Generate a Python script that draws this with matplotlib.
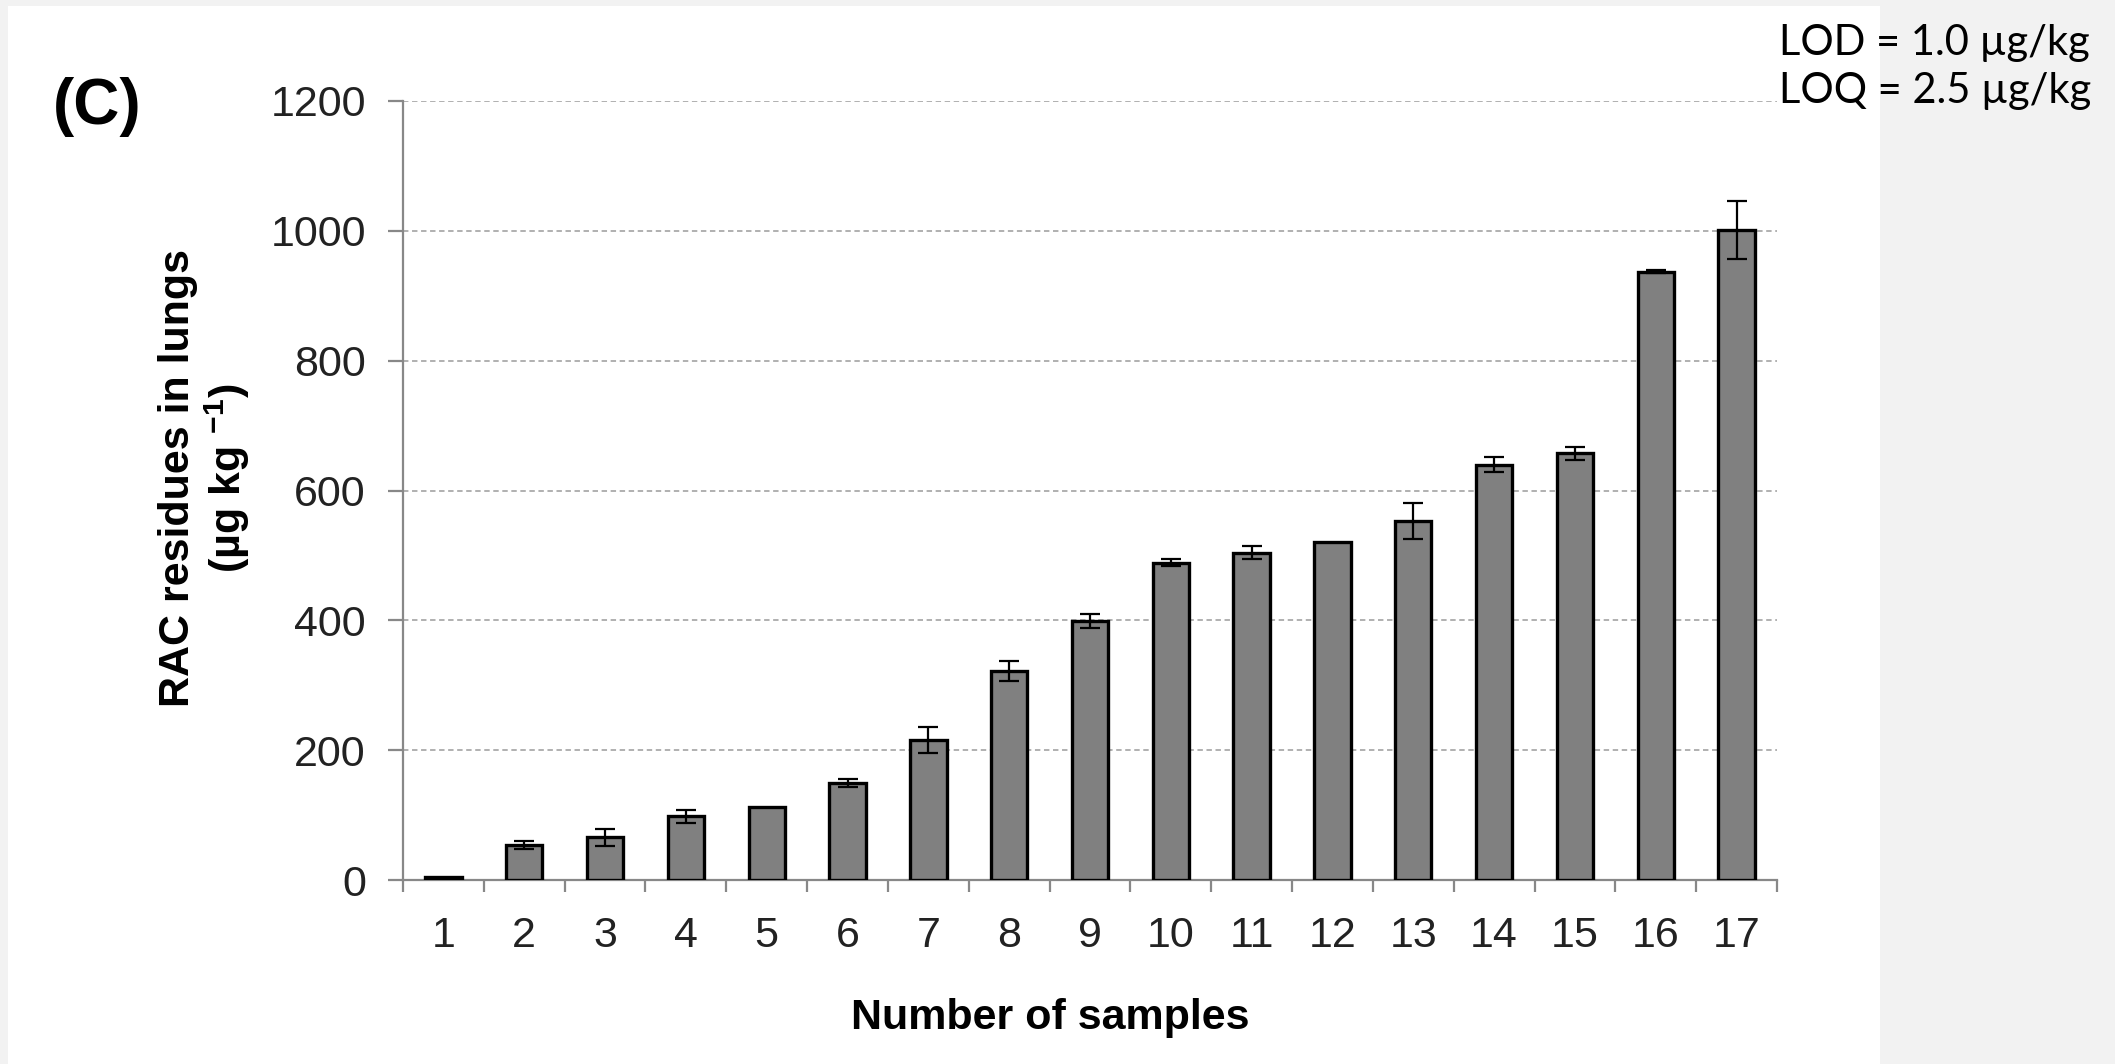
"""
RAC residues in lungs - bar chart with error bars, panel (C)
"""
import numpy as np
import matplotlib.pyplot as plt
from matplotlib.patches import Rectangle

plt.rcParams['font.family'] = ['Liberation Sans', 'DejaVu Sans']
plt.rcParams['mathtext.fontset'] = 'custom'
plt.rcParams['mathtext.bf'] = 'Liberation Sans:bold'
plt.rcParams['mathtext.rm'] = 'Liberation Sans:bold'
plt.rcParams['mathtext.default'] = 'bf'

# data
samples = [str(i) for i in range(1, 18)]
residues = [4, 54, 66, 98, 113, 150, 216, 322, 399, 489, 504, 521, 553, 640, 657, 937, 1001]
errors = [0, 6, 13, 10, 0, 6, 20, 15, 11, 6, 10, 0, 28, 12, 10, 2, 45]
y_ticks = [0, 200, 400, 600, 800, 1000, 1200]

fig = plt.figure(figsize=(21.15, 10.64), dpi=100, facecolor='#f2f2f2')
# white slide panel
fig.add_artist(Rectangle((8/2115, 0), (1880-8)/2115, 1 - 6/1064, transform=fig.transFigure,
                         facecolor='white', edgecolor='none', zorder=0))

ax = fig.add_axes([403/2115, 1 - 880/1064, 1374/2115, 779/1064])
ax.set_facecolor('none')

x = np.arange(1, len(samples) + 1)
ax.bar(x, residues, width=0.45, color='#808080', edgecolor='black', linewidth=2.4, zorder=3)
err = np.array(errors)
has_err = err > 0
ax.errorbar(x[has_err], np.array(residues)[has_err], yerr=err[has_err], fmt='none',
            ecolor='black', elinewidth=1.6, capsize=7, capthick=1.6, zorder=4)

ax.set_xlim(0.5, len(samples) + 0.5)
ax.set_ylim(0, 1200)
ax.set_yticks(y_ticks)
ax.set_xticks(x)
ax.set_xticklabels(samples)
ax.set_xticks(np.arange(0.5, len(samples) + 1), minor=True)

ax.yaxis.grid(True, color='#aaaaaa', linestyle=(0, (3, 2)), linewidth=1.3, zorder=0)
ax.set_axisbelow(True)
for s in ['top', 'right']:
    ax.spines[s].set_visible(False)
for s in ['left', 'bottom']:
    ax.spines[s].set_color('#888888')
    ax.spines[s].set_linewidth(1.6)

ax.tick_params(axis='y', direction='out', length=10.8, width=1.6, color='#888888',
               labelsize=31, labelcolor='#222222', pad=16)
ax.tick_params(axis='x', which='major', length=0, labelsize=31, labelcolor='#222222', pad=26)
ax.tick_params(axis='x', which='minor', direction='out', length=8.6, width=1.6, color='#888888')

fig.text(205/2115, 1 - 478/1064, 'RAC residues in lungs\n(µg kg $^{-1}$)', rotation=90,
         ha='center', va='center', multialignment='center', fontsize=31, fontweight='bold',
         linespacing=1.1)
fig.text(1050/2115, 1 - 1018/1064, 'Number of samples', ha='center', va='center',
         fontsize=31, fontweight='bold')
fig.text(97/2115, 1 - 107/1064, '(C)', ha='center', va='center', fontsize=46, fontweight='bold')

fig.text(1779/2115, 1 - 55/1064, 'LOD = 1.0 µg/kg', ha='left', va='baseline',
         fontsize=30, family=['Lato', 'DejaVu Sans'])
fig.text(1779/2115, 1 - 103/1064, 'LOQ = 2.5 µg/kg', ha='left', va='baseline',
         fontsize=30, family=['Lato', 'DejaVu Sans'])

fig.savefig('out.png', dpi=100, facecolor=fig.get_facecolor())
